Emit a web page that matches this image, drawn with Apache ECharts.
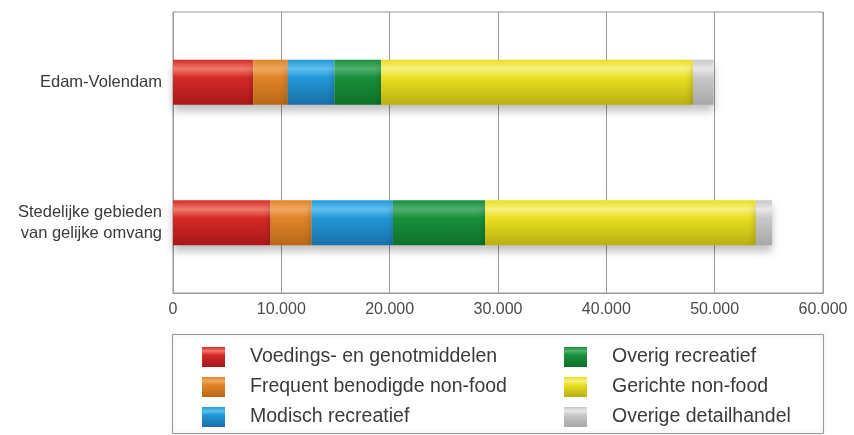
<!DOCTYPE html>
<html>
<head>
<meta charset="utf-8">
<script src="https://cdn.jsdelivr.net/npm/echarts@6/dist/echarts.min.js"></script>
<style>
html,body{margin:0;padding:0;background:#fff;}
#chart{width:854px;height:435px;}
</style>
</head>
<body>
<div id="chart"></div>
<script>
var categories = ['Edam-Volendam', 'Stedelijke gebieden\nvan gelijke omvang'];
var seriesNames = ['Voedings- en genotmiddelen', 'Frequent benodigde non-food', 'Modisch recreatief', 'Overig recreatief', 'Gerichte non-food', 'Overige detailhandel'];
var voedings = [7400, 9000];
var frequent = [3200, 3800];
var modisch = [4300, 7500];
var overigRecreatief = [4300, 8500];
var gerichte = [28800, 25000];
var overigeDetail = [1900, 1500];
var xTicks = [0, 10000, 20000, 30000, 40000, 50000, 60000];

var seriesData = [voedings, frequent, modisch, overigRecreatief, gerichte, overigeDetail];
var colorStops = [
  ['#f07a6a', '#d42a28', '#a81818'],
  ['#f0a860', '#e08428', '#b86818'],
  ['#60c0f0', '#2298d8', '#1a70a8'],
  ['#50b070', '#18903c', '#10702a'],
  ['#f8f080', '#e8e020', '#b8b010'],
  ['#e8e8e8', '#c8c8c8', '#a8a8a8']
];
function grad(c) {
  return new echarts.graphic.LinearGradient(0, 0, 0, 1, [
    {offset: 0, color: c[1]},
    {offset: 0.2, color: c[0]},
    {offset: 0.4, color: c[1]},
    {offset: 1, color: c[2]}
  ]);
}

var chart = echarts.init(document.getElementById('chart'), null, {renderer: 'canvas'});
var series = seriesNames.map(function (n, i) {
  return {
    name: n,
    type: 'bar',
    stack: 'total',
    barWidth: 45,
    data: seriesData[i],
    itemStyle: {
      color: grad(colorStops[i]),
      shadowColor: 'rgba(0,0,0,0.25)',
      shadowBlur: 8,
      shadowOffsetY: 6
    },
    emphasis: {disabled: true}
  };
});

var font = 'Liberation Sans, Arial, sans-serif';
var legendText = {fontSize: 19.5, color: '#3a3a3a', fontFamily: font, padding: [0, 0, 0, 20]};
chart.setOption({
  animation: false,
  grid: {left: 173, right: 31, top: 12, bottom: 142, show: true, borderColor: '#999', borderWidth: 1},
  xAxis: {
    type: 'value',
    min: xTicks[0],
    max: xTicks[xTicks.length - 1],
    interval: xTicks[1] - xTicks[0],
    axisLine: {show: true, lineStyle: {color: '#999'}},
    axisTick: {show: false},
    splitLine: {show: true, lineStyle: {color: '#999', width: 1}},
    axisLabel: {
      fontSize: 16, color: '#4a4a4a', margin: 9,
      fontFamily: font,
      formatter: function (v) { return v === 0 ? '0' : String(v).replace(/\B(?=(\d{3})+(?!\d))/g, '.'); }
    }
  },
  yAxis: {
    type: 'category',
    inverse: true,
    data: categories,
    axisLine: {show: true, lineStyle: {color: '#999'}},
    axisTick: {show: false},
    axisLabel: {fontSize: 16.5, color: '#3a3a3a', margin: 11, lineHeight: 21, align: 'right',
      fontFamily: font}
  },
  legend: [
    {
      orient: 'vertical', left: 197, top: 342,
      itemWidth: 23, itemHeight: 20, itemGap: 10,
      icon: 'rect',
      data: seriesNames.slice(0, 3),
      textStyle: legendText,
      selectedMode: false
    },
    {
      orient: 'vertical', left: 559, top: 342,
      itemWidth: 23, itemHeight: 20, itemGap: 10,
      icon: 'rect',
      data: seriesNames.slice(3),
      textStyle: legendText,
      selectedMode: false
    }
  ],
  graphic: [{
    type: 'rect',
    shape: {x: 172.5, y: 334.5, width: 651, height: 99},
    style: {fill: 'none', stroke: '#999', lineWidth: 1, shadowColor: 'rgba(0,0,0,0.2)', shadowBlur: 4},
    z: -1
  }],
  series: series
});
</script>
</body>
</html>
